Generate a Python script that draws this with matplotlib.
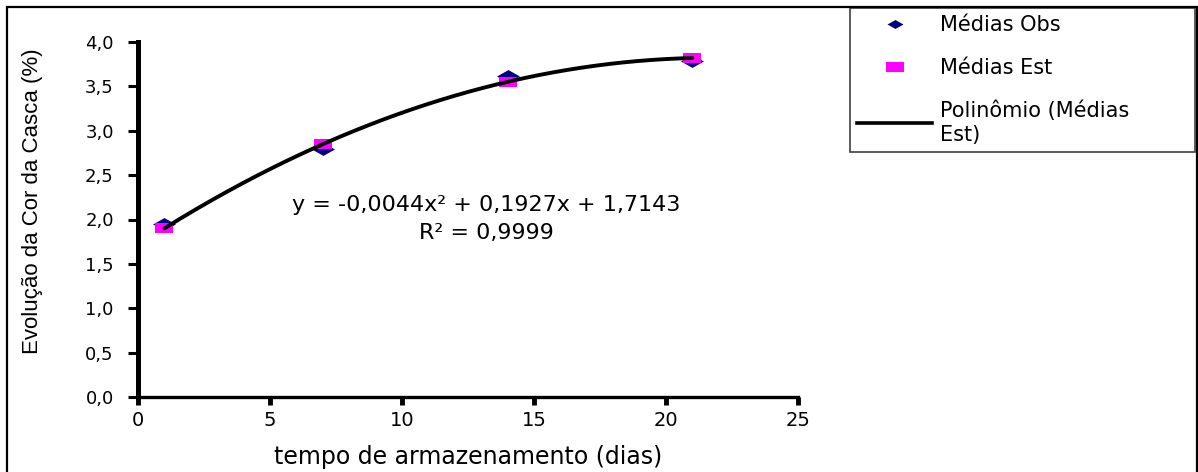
import numpy as np
import matplotlib
matplotlib.use("Agg")
import matplotlib.pyplot as plt
from matplotlib.lines import Line2D
from matplotlib.patches import Rectangle
from matplotlib.path import Path

# ---- data ----
dias = [1, 7, 14, 21]
medias_obs = [1.95, 2.80, 3.62, 3.79]
medias_est = [1.90, 2.85, 3.55, 3.82]
xticks = [0, 5, 10, 15, 20, 25]
xtick_labels = ["0", "5", "10", "15", "20", "25"]
yticks = [0.0, 0.5, 1.0, 1.5, 2.0, 2.5, 3.0, 3.5, 4.0]
ytick_labels = ["0,0", "0,5", "1,0", "1,5", "2,0", "2,5", "3,0", "3,5", "4,0"]
label_obs = "Médias Obs"
label_est = "Médias Est"
label_poly = "Polinômio (Médias\nEst)"
equation = "y = -0,0044x² + 0,1927x + 1,7143\nR² = 0,9999"
xlabel = "tempo de armazenamento (dias)"
ylabel = "Evolução da Cor da Casca (%)"

plt.rcParams['font.family'] = ['DejaVu Sans']

W, H = 1198, 472
fig = plt.figure(figsize=(W / 100, H / 100), dpi=100)
L, R, T, B = 138, 798, 42, 397
ax = fig.add_axes([L / W, 1 - B / H, (R - L) / W, (B - T) / H])

diamond = Path([(-1, 0), (0, 0.56), (1, 0), (0, -0.56), (-1, 0)],
               [Path.MOVETO, Path.LINETO, Path.LINETO, Path.LINETO, Path.CLOSEPOLY])
square = Path([(-1, -0.55), (1, -0.55), (1, 0.55), (-1, 0.55), (-1, -0.55)],
              [Path.MOVETO, Path.LINETO, Path.LINETO, Path.LINETO, Path.CLOSEPOLY])

navy = "#000080"
magenta = "#FF00FF"

ax.plot(dias, medias_obs, ls="none", marker=diamond, markersize=16.5,
        color=navy, markeredgewidth=0, zorder=3)
ax.plot(dias, medias_est, ls="none", marker=square, markersize=13,
        color=magenta, markeredgewidth=0, zorder=4)
coef = np.polyfit(dias, medias_est, 2)
xs = np.linspace(min(dias), max(dias), 300)
ax.plot(xs, np.polyval(coef, xs), color="black", lw=2.8, zorder=5,
        solid_capstyle="round")

ax.set_xlim(0, 25)
ax.set_ylim(0, 4)
ax.set_xticks(xticks)
ax.set_xticklabels(xtick_labels, fontsize=14)
ax.set_yticks(yticks)
ax.set_yticklabels(ytick_labels, fontsize=13)

for s in ["top", "right"]:
    ax.spines[s].set_visible(False)
ax.spines["left"].set_linewidth(3.6)
ax.spines["bottom"].set_linewidth(2.4)
ax.tick_params(axis="y", direction="out", length=7.5, width=2.2, pad=10)
ax.tick_params(axis="x", direction="out", length=6, width=3.5, pad=4)

ax.set_xlabel(xlabel, fontsize=17)
ax.xaxis.set_label_coords(0.5, (B - 457) / (B - T))
ax.xaxis.label.set_va("center")
ax.set_ylabel(ylabel, fontsize=16, family=["Liberation Sans", "DejaVu Sans"])
ax.yaxis.set_label_coords((33 - L) / (R - L), (B - 201) / (B - T))
ax.yaxis.label.set_va("center")

ax.text((486 - L) / (R - L), (B - 219) / (B - T), equation, transform=ax.transAxes,
        ha="center", va="center", multialignment="center", fontsize=16,
        linespacing=1.45, zorder=6)

handles = [
    Line2D([], [], ls="none", marker=diamond, markersize=11.5, color=navy, markeredgewidth=0),
    Line2D([], [], ls="none", marker=square, markersize=13, color=magenta, markeredgewidth=0),
    Line2D([], [], color="black", lw=2.6),
]
leg = fig.legend(handles, [label_obs, label_est, label_poly], loc="upper left",
                 bbox_to_anchor=(850 / W, 1 - 151 / H, (1195 - 850) / W, (151 - 8) / H),
                 mode="expand", borderaxespad=0, frameon=True, fancybox=False,
                 edgecolor="#404040", facecolor="white", framealpha=1,
                 fontsize=15, handlelength=3.6, handletextpad=0.38,
                 borderpad=0.34, labelspacing=1.1, numpoints=1)
leg.get_frame().set_linewidth(1.2)

fig.add_artist(Rectangle((7 / W, -0.1), (1197 - 7) / W, 1 - 7 / H + 0.1,
                         transform=fig.transFigure, fill=False, lw=1.6,
                         edgecolor="black", zorder=10))

fig.savefig("out.png", dpi=100)
